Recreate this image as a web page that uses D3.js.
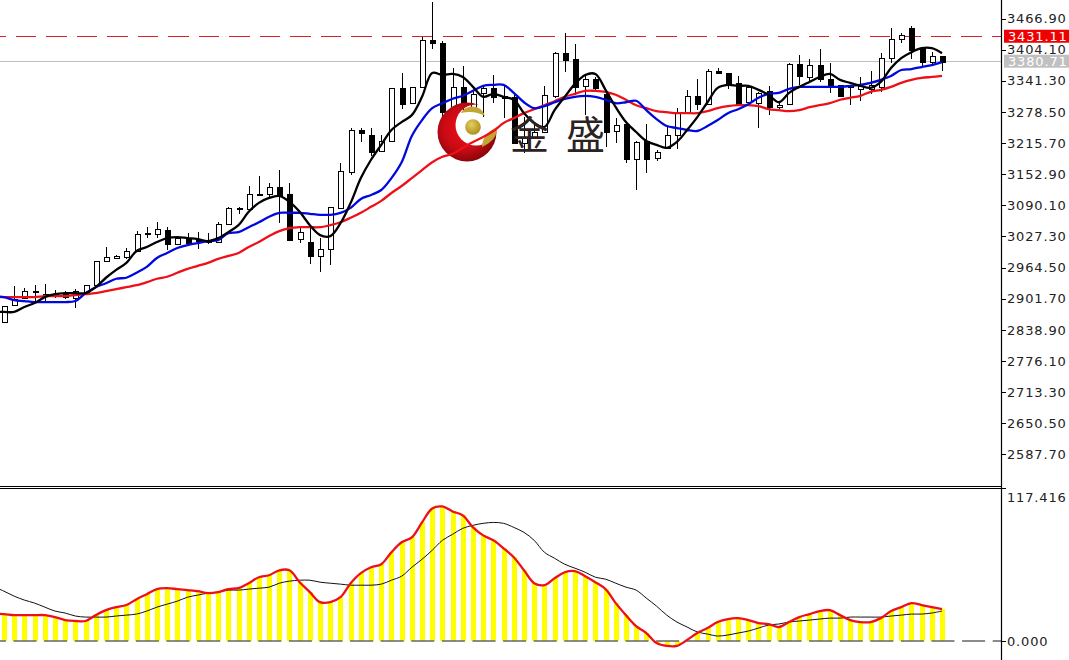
<!DOCTYPE html>
<html><head><meta charset="utf-8">
<script src="https://cdn.jsdelivr.net/npm/d3@7"></script>
<style>
html,body{margin:0;padding:0;background:#fff;overflow:hidden}
svg{display:block}
text{font-family:"DejaVu Sans",sans-serif}
</style></head><body>
<svg id="c" width="1069" height="660"></svg>
<script>
const opens=[2855,2889,2903,2917,2911,2911,2913,2903,2913,2929,2978,2984,2986,2998,3034,3032,3040,3012,3024,3020,3016,3016,3052,3085,3083,3113,3113,3127,3113,3022,3016,2988,3002,3085,3157,3242,3232,3200,3220,3327,3296,3329,3424,3417,3288,3329,3282,3317,3327,3311,3309,3216,3228,3238,3311,3397,3385,3331,3345,3315,3240,3254,3184,3220,3186,3206,3232,3276,3311,3294,3361,3357,3337,3298,3296,3321,3288,3294,3375,3349,3373,3345,3333,3329,3325,3325,3329,3387,3426,3448,3407,3379,3391];
const highs=[2887,2927,2923,2929,2931,2919,2917,2921,2929,2978,3006,2990,3004,3038,3046,3056,3046,3024,3034,3036,3034,3056,3087,3087,3129,3149,3135,3161,3135,3044,3050,3024,3087,3175,3246,3246,3246,3232,3327,3357,3329,3430,3500,3422,3367,3371,3323,3329,3353,3333,3313,3268,3252,3331,3399,3438,3415,3353,3349,3323,3266,3256,3220,3254,3202,3248,3286,3323,3345,3365,3367,3357,3351,3329,3319,3331,3298,3377,3393,3385,3405,3377,3333,3333,3349,3361,3397,3448,3438,3452,3407,3399,3391];
const lows=[2855,2889,2903,2895,2895,2903,2901,2883,2913,2929,2978,2982,2982,2998,3024,3024,3000,3012,3010,3002,3012,3016,3052,3073,3077,3111,3107,3054,3018,3014,2972,2956,2970,3085,3151,3218,3190,3200,3220,3284,3296,3329,3405,3268,3272,3282,3282,3268,3296,3266,3216,3196,3228,3238,3307,3359,3313,3272,3323,3208,3216,3175,3121,3155,3180,3206,3204,3276,3282,3294,3357,3325,3290,3292,3246,3272,3284,3294,3333,3337,3339,3317,3309,3292,3301,3315,3319,3377,3418,3385,3367,3373,3361];
const closes=[2887,2901,2917,2915,2909,2909,2905,2917,2929,2978,2986,2988,2998,3032,3032,3042,3012,3024,3014,3018,3020,3052,3085,3083,3113,3111,3127,3109,3020,3036,2988,3002,3087,3159,3242,3236,3198,3220,3327,3294,3329,3424,3417,3278,3329,3296,3315,3327,3309,3307,3216,3226,3238,3313,3397,3383,3329,3345,3327,3238,3252,3184,3218,3184,3198,3232,3276,3311,3294,3361,3357,3337,3294,3329,3317,3288,3292,3375,3351,3373,3345,3329,3311,3333,3331,3333,3387,3426,3434,3403,3379,3391,3379];
const maFast=[2875,2875,2885,2893,2905,2911,2913,2913,2913,2925,2944,2960,2974,2998,3006,3016,3024,3026,3024,3022,3018,3024,3036,3050,3077,3095,3105,3109,3097,3077,3050,3030,3028,3054,3095,3145,3182,3212,3242,3258,3272,3309,3357,3353,3355,3349,3329,3309,3315,3309,3303,3276,3256,3248,3282,3309,3335,3353,3355,3323,3288,3258,3238,3220,3212,3206,3218,3242,3268,3298,3327,3333,3331,3331,3323,3313,3298,3317,3329,3339,3349,3355,3343,3337,3331,3327,3339,3367,3387,3399,3407,3407,3397];
const maMid=[2905,2899,2897,2895,2895,2895,2895,2897,2913,2925,2933,2942,2944,2954,2966,2984,2994,3004,3010,3014,3018,3020,3034,3036,3046,3056,3067,3075,3075,3075,3073,3071,3071,3075,3085,3103,3111,3121,3145,3177,3230,3262,3286,3296,3305,3311,3321,3331,3333,3333,3317,3298,3286,3290,3298,3305,3309,3311,3309,3303,3296,3298,3301,3282,3264,3250,3246,3242,3240,3250,3262,3276,3284,3294,3307,3315,3317,3325,3329,3329,3329,3329,3329,3331,3333,3337,3343,3351,3363,3365,3369,3373,3379];
const maSlow=[2905,2905,2905,2905,2907,2907,2907,2909,2911,2913,2917,2921,2925,2929,2935,2942,2946,2954,2962,2968,2974,2982,2988,2994,3006,3016,3028,3038,3044,3046,3046,3046,3050,3056,3065,3075,3087,3099,3115,3129,3145,3161,3177,3188,3194,3206,3218,3228,3240,3256,3266,3276,3284,3292,3300,3309,3315,3321,3321,3319,3313,3303,3292,3286,3280,3278,3276,3276,3276,3280,3286,3290,3292,3292,3290,3284,3282,3280,3282,3288,3292,3296,3303,3307,3311,3319,3323,3329,3337,3343,3347,3349,3351];
const osc=[20.6,19.8,19.8,19.8,19.8,18.3,16.0,15.3,15.3,19.8,23.6,25.9,27.5,32.0,35.8,39.7,40.4,39.7,38.9,38.1,36.6,37.4,39.7,40.4,44.2,48.8,50.3,54.1,54.1,45.0,37.4,29.7,29.7,33.5,44.2,51.9,56.4,58.7,67.9,75.5,79.3,90.7,101.4,102.9,99.1,96.1,86.9,80.8,77.0,70.9,64.1,54.1,44.2,42.7,48.0,52.6,53.4,49.6,45.0,39.7,29.0,19.8,11.4,6.1,-1.5,-3.8,-3.8,0.8,6.1,9.9,14.5,16.8,17.5,16.0,13.7,13.0,10.7,14.5,18.3,20.6,22.9,23.6,19.8,16.0,14.5,14.5,17.5,22.9,25.9,29.0,27.5,25.9,24.4];
const signal=[38.1,34.3,31.3,29.0,25.9,22.9,21.4,19.1,18.3,18.3,18.3,19.1,19.8,20.6,22.9,25.9,28.2,30.5,33.5,35.1,36.6,37.4,38.9,38.9,39.7,40.4,41.2,44.2,45.8,46.5,46.5,45.0,44.2,43.5,42.7,42.7,42.7,43.5,46.5,49.6,56.4,62.5,69.4,77.0,81.6,86.2,88.5,90.0,90.7,90.0,86.9,83.1,77.0,67.9,63.3,58.7,55.7,52.6,48.8,47.3,44.2,41.2,38.9,32.8,26.7,19.8,14.5,10.7,6.9,5.3,3.8,4.6,6.1,7.6,9.9,12.2,13.0,14.5,15.3,16.0,16.8,17.5,17.5,18.3,18.3,18.3,18.3,19.1,19.8,20.6,20.6,21.4,22.9];
// value of each line on the bar just left of the window
const prevFast=2875, prevMid=2907, prevSlow=2905, prevOsc=21.0, prevSignal=41.5;
const priceTicks=[3466.90,3404.10,3341.30,3278.50,3215.70,3152.90,3090.10,3027.30,2964.50,2901.70,2838.90,2776.10,2713.30,2650.50,2587.70];
const oscTicks=[117.416,0];
const resistance=3431.11, lastPrice=3380.71;

const svg=d3.select("#c");
const W=1001,H=660;
const x=d3.scaleLinear().domain([0,opens.length-1]).range([4,942]);
const y=d3.scaleLinear().domain([3466.9,2587.7]).range([18.5,454.4]);
const yo=d3.scaleLinear().domain([117.416,0]).range([487.5,641]);
const idx=d3.range(opens.length);

const defs=svg.append("defs");
const rg=defs.append("radialGradient").attr("id","redG").attr("cx","0.45").attr("cy","0.45").attr("r","0.6");
rg.append("stop").attr("offset","0").attr("stop-color","#f01018");
rg.append("stop").attr("offset","0.6").attr("stop-color","#c80a14");
rg.append("stop").attr("offset","1").attr("stop-color","#7c0408");
const gg=defs.append("radialGradient").attr("id","goldG").attr("cx","0.4").attr("cy","0.35").attr("r","0.7");
gg.append("stop").attr("offset","0").attr("stop-color","#e6cf5a");
gg.append("stop").attr("offset","1").attr("stop-color","#a88a1c");
const mk=defs.append("mask").attr("id","cres");
mk.append("rect").attr("width",1069).attr("height",660).attr("fill","#fff");
mk.append("circle").attr("cx",476).attr("cy",125).attr("r",20.5).attr("fill","#000");

// separators
svg.append("line").attr("x1",0).attr("x2",W).attr("y1",486).attr("y2",486).attr("stroke","#000").attr("shape-rendering","crispEdges");
svg.append("line").attr("x1",0).attr("x2",W).attr("y1",488).attr("y2",488).attr("stroke","#000").attr("shape-rendering","crispEdges");

// horizontal level lines
svg.append("line").attr("x1",0).attr("x2",W).attr("y1",y(lastPrice)).attr("y2",y(lastPrice)).attr("stroke","#c0c0c0").attr("stroke-width",1).attr("shape-rendering","crispEdges");
svg.append("line").attr("x1",0).attr("x2",W).attr("y1",y(resistance)).attr("y2",y(resistance)).attr("stroke","#d8202a").attr("stroke-width",1).attr("stroke-dasharray","20.5 10").attr("stroke-dashoffset",-15.5).attr("shape-rendering","crispEdges");

// candles
const cg=svg.append("g").attr("shape-rendering","crispEdges");
cg.selectAll("line").data(idx).join("line")
 .attr("x1",i=>Math.round(x(i))+.5).attr("x2",i=>Math.round(x(i))+.5)
 .attr("y1",i=>y(highs[i])).attr("y2",i=>y(lows[i])).attr("stroke","#000").attr("stroke-width",1);
cg.selectAll("rect").data(idx).join("rect")
 .attr("x",i=>Math.round(x(i))-2).attr("width",5)
 .attr("y",i=>Math.round(y(Math.max(opens[i],closes[i])))+.5)
 .attr("height",i=>Math.max(1,Math.round(Math.abs(y(opens[i])-y(closes[i])))))
 .attr("fill",i=>closes[i]>=opens[i]?"#fff":"#000").attr("stroke","#000").attr("stroke-width",1);

// logo
const logo=svg.append("g");
logo.append("circle").attr("cx",467).attr("cy",132).attr("r",29.5).attr("fill","url(#redG)").attr("mask","url(#cres)");
logo.append("circle").attr("cx",473).attr("cy",127).attr("r",7.8).attr("fill","url(#goldG)");
logo.append("path").attr("d","M461 113 C466 104 481 104 485 116 C478 112 470 111 461 113Z").attr("fill","#c4a432");
logo.append("path").attr("d","M497 127 C498 136 491 143 482 147 C482 138 488 131 497 127Z").attr("fill","#c4a432");

// moving averages
const withPrev=(prev,s)=>[prev].concat(s);
const lineP=d3.line().x((d,i)=>x(i-1)).y(d=>y(d)).curve(d3.curveCatmullRom.alpha(.5));
[[withPrev(prevSlow,maSlow),"#ee1018"],[withPrev(prevMid,maMid),"#0008e0"],[withPrev(prevFast,maFast),"#000"]].forEach(([s,c])=>{
 svg.append("path").attr("d",lineP(s)).attr("fill","none").attr("stroke",c).attr("stroke-width",2.3).attr("stroke-linejoin","round");
});

// watermark text
svg.append("text").attr("x",510).attr("y",149).attr("font-size",39).attr("fill","#2c2222")
 .style("font-family",'"Noto Sans CJK SC",sans-serif').text("金");
svg.append("text").attr("x",566).attr("y",149).attr("font-size",39).attr("fill","#2c2222")
 .style("font-family",'"Noto Sans CJK SC",sans-serif').text("盛");

// oscillator
svg.append("g").attr("shape-rendering","crispEdges").selectAll("rect").data(osc).join("rect")
 .attr("x",(d,i)=>Math.round(x(i))-2).attr("width",5)
 .attr("y",d=>Math.min(yo(d),yo(0))).attr("height",d=>Math.abs(yo(d)-yo(0)))
 .attr("fill","#ffff00");
svg.append("line").attr("x1",0).attr("x2",W).attr("y1",yo(0)).attr("y2",yo(0)).attr("stroke","#666").attr("stroke-width",1.5).attr("stroke-dasharray","23 7.6").attr("stroke-dashoffset",-13.5);
const lineO=d3.line().x((d,i)=>x(i-1)).y(d=>yo(d)).curve(d3.curveCatmullRom.alpha(.5));
svg.append("path").attr("d",lineO(withPrev(prevSignal,signal))).attr("fill","none").attr("stroke","#111").attr("stroke-width",1);
svg.append("path").attr("d",lineO(withPrev(prevOsc,osc))).attr("fill","none").attr("stroke","#ee1018").attr("stroke-width",2.3).attr("stroke-linejoin","round");

// axes
const styleAxis=g=>{
 g.select(".domain").remove();
 g.selectAll(".tick line").attr("stroke","#000").attr("shape-rendering","crispEdges");
 g.selectAll(".tick text").attr("fill","#222").style("font-size","13px").style("letter-spacing","0.85px").style("font-family",'"DejaVu Sans",sans-serif');
};
svg.append("g").attr("transform",`translate(${W},0)`)
 .call(d3.axisRight(y).tickValues(priceTicks).tickSize(5).tickPadding(1).tickFormat(d3.format(".2f")))
 .call(styleAxis);
const ag=svg.append("g").attr("transform",`translate(${W},0)`)
 .call(d3.axisRight(yo).tickValues(oscTicks).tickSize(5).tickPadding(1).tickFormat(d3.format(".3f")))
 .call(styleAxis);
ag.selectAll(".tick text").filter(d=>d>0).attr("dy","1.05em");
svg.append("line").attr("x1",W+.5).attr("x2",W+.5).attr("y1",0).attr("y2",H).attr("stroke","#000").attr("stroke-width",1.2);

// price tags
[[resistance,"#f00000"],[lastPrice,"#c0c0c0"]].forEach(([v,c])=>{
 svg.append("rect").attr("x",1004).attr("y",y(v)-6.5).attr("width",65).attr("height",13).attr("fill",c);
 svg.append("text").attr("x",1008).attr("y",y(v)+.5).attr("dy",".36em").attr("fill","#fff")
  .style("font-size","13px").style("letter-spacing","0.85px").text(v.toFixed(2));
});
</script>
</body></html>
